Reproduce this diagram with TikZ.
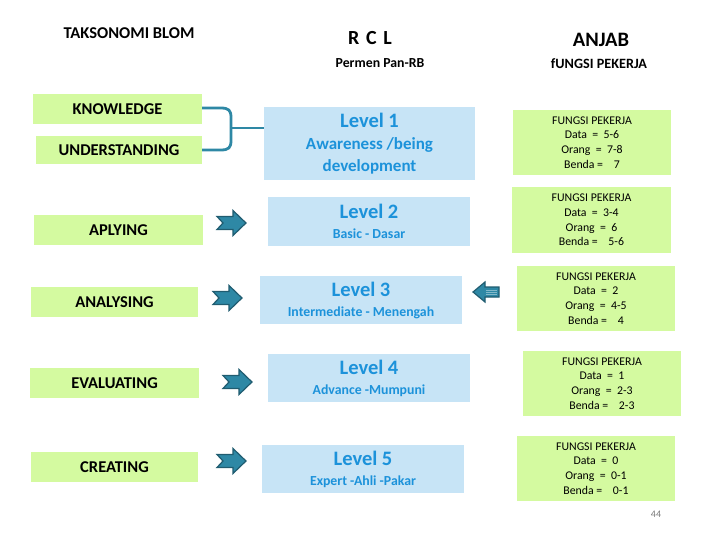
\documentclass[tikz,border=0pt]{standalone}
\usepackage{fontspec}
\setmainfont{Carlito}
\definecolor{lgreen}{RGB}{212,250,160}
\definecolor{lblue}{RGB}{199,228,246}
\definecolor{bluetxt}{RGB}{28,146,218}
\definecolor{teal}{RGB}{46,136,165}
\definecolor{tealdark}{RGB}{32,92,112}
\definecolor{pagegray}{RGB}{120,120,120}
\newcommand{\lvtitle}[1]{{\fontsize{20.5}{22}\selectfont #1}}
\begin{document}
\begin{tikzpicture}[x=1pt,y=-1pt,
  gbox/.style={fill=lgreen, draw=none, inner sep=0pt, align=center,
    font=\fontsize{16.5}{18}\selectfont\bfseries},
  bbox/.style={fill=lblue, draw=none, inner sep=0pt, align=center, text=bluetxt,
    font=\fontsize{13.8}{20}\selectfont\bfseries},
  fbox/.style={fill=lgreen, draw=none, inner sep=0pt, align=center,
    minimum width=158pt, minimum height=65pt,
    font=\fontsize{11.8}{14.7}\selectfont},
  hdr/.style={inner sep=0pt, font=\bfseries},
  brace/.style={draw=teal, line width=2.8pt},
  blockarrow/.pic={\draw[fill=teal, draw=tealdark, line width=1.2pt, line join=miter]
     (-14,-6.5) -- (2,-6.5) -- (2,-12.5) -- (15,0) -- (2,12.5) -- (2,6.5) -- (-14,6.5) -- (-8,0) -- cycle;},
  leftblockarrow/.pic={\draw[fill=teal, draw=tealdark, line width=1.2pt, line join=miter]
     (13,-5) -- (-1,-5) -- (-1,-10) -- (-13,0) -- (-1,10) -- (-1,5) -- (13,5) -- cycle;
     \draw[white!40!teal, line width=0.5pt] (0,-2) -- (11,-2) (0,0) -- (11,0) (0,2) -- (11,2);}
]
\useasboundingbox (0,0) rectangle (720,540);

% headers
\node[hdr, font=\fontsize{16.5}{18}\selectfont\bfseries] (h1) at (129,33) {TAKSONOMI BLOM};
\node[hdr, font=\fontsize{20}{22}\selectfont\bfseries] (h2) at (370,38) {R\,\,C\,\,L};
\node[hdr, font=\fontsize{13.8}{16}\selectfont\bfseries] (h3) at (380,63) {Permen Pan-RB};
\node[hdr, font=\fontsize{20.5}{22}\selectfont\bfseries] (h4) at (601,40) {ANJAB};
\node[hdr, font=\fontsize{14.2}{16}\selectfont\bfseries] (h5) at (599,64) {fUNGSI PEKERJA};

% left green boxes
\node[gbox, minimum width=169pt, minimum height=30pt] (k) at (117.5,109) {KNOWLEDGE};
\node[gbox, minimum width=166pt, minimum height=28pt] (u) at (119,150) {UNDERSTANDING};
\node[gbox, minimum width=169pt, minimum height=30pt] (ap) at (118.5,230) {APLYING};
\node[gbox, minimum width=167pt, minimum height=30pt] (an) at (114.5,302) {ANALYSING};
\node[gbox, minimum width=169pt, minimum height=30pt] (ev) at (114.5,383) {EVALUATING};
\node[gbox, minimum width=167pt, minimum height=30pt] (cr) at (114.5,467) {CREATING};

% blue level boxes
\node[bbox, minimum width=211pt, minimum height=73pt,
  font=\fontsize{17}{22}\selectfont\bfseries] (l1) at (369.5,143.5)
  {\lvtitle{Level 1}\\Awareness /being\\development};
\node[bbox, minimum width=202pt, minimum height=49pt] (l2) at (369,221.5)
  {\lvtitle{Level 2}\\Basic - Dasar};
\node[bbox, minimum width=202pt, minimum height=48pt] (l3) at (361,300)
  {\lvtitle{Level 3}\\Intermediate - Menengah};
\node[bbox, minimum width=202pt, minimum height=48pt] (l4) at (369,378)
  {\lvtitle{Level 4}\\Advance -Mumpuni};
\node[bbox, minimum width=202pt, minimum height=48pt] (l5) at (363,469)
  {\lvtitle{Level 5}\\Expert -Ahli -Pakar};

% right green boxes
\node[fbox] (f1) at (592,142.5) {FUNGSI PEKERJA\\Data~~=~~5-6\\Orang~~=~~7-8\\Benda~=~~~~7};
\node[fbox, minimum width=159pt, minimum height=66pt] (f2) at (591.5,220) {FUNGSI PEKERJA\\Data~~=~~3-4\\Orang~~=~~6\\Benda~=~~~~5-6};
\node[fbox] (f3) at (596,298.5) {FUNGSI PEKERJA\\Data~~=~~2\\Orang~~=~~4-5\\Benda~=~~~~4};
\node[fbox] (f4) at (602,383.5) {FUNGSI PEKERJA\\Data~~=~~1\\Orang~~=~~2-3\\Benda~=~~~~2-3};
\node[fbox] (f5) at (596,468.5) {FUNGSI PEKERJA\\Data~~=~~0\\Orang~~=~~0-1\\Benda~=~~~~0-1};

% brace connector
\coordinate (j) at (231,128);
\draw[brace, line join=round] (k.east |- 0,108) -- (220,108)
  .. controls (229,108) and (231,110) .. (231,118) -- (231,140)
  .. controls (231,148) and (229,150) .. (220,150) -- (u.east);
\draw[brace] (j) -- (j -| l1.west);

% block arrows
\coordinate (a1) at (231,223);
\coordinate (a2) at (227,298);
\coordinate (a3) at (237,382);
\coordinate (a4) at (231,461);
\coordinate (a5) at (486,292);
\pic at (a1) {blockarrow};
\pic at (a2) {blockarrow};
\pic at (a3) {blockarrow};
\pic at (a4) {blockarrow};
\pic at (a5) {leftblockarrow};

% page number
\node[text=pagegray, font=\fontsize{10}{12}\selectfont] (pg) at (656,514) {44};
\end{tikzpicture}
\end{document}
